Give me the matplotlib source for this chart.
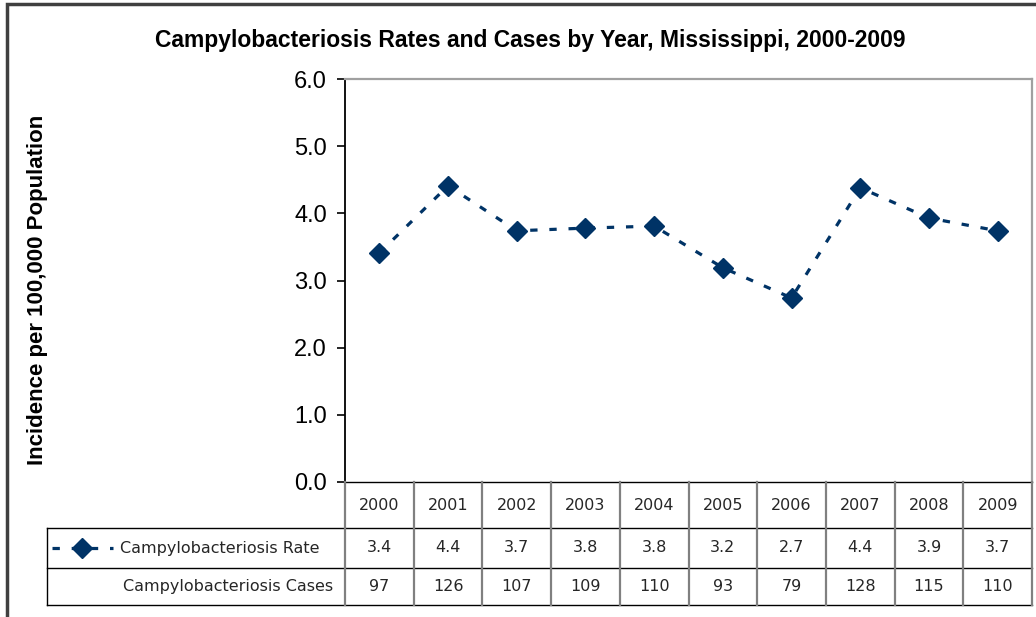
import numpy as np
import matplotlib
matplotlib.use('Agg')
import matplotlib.pyplot as plt
from matplotlib.patches import Rectangle

years = ['2000', '2001', '2002', '2003', '2004',
         '2005', '2006', '2007', '2008', '2009']
# rates as plotted (table shows them rounded to one decimal)
rates = [3.41, 4.41, 3.74, 3.78, 3.81, 3.19, 2.74, 4.38, 3.93, 3.74]
cases = [97, 126, 107, 109, 110, 93, 79, 128, 115, 110]
yticks = [0.0, 1.0, 2.0, 3.0, 4.0, 5.0, 6.0]

title = 'Campylobacteriosis Rates and Cases by Year, Mississippi, 2000-2009'
ylabel = 'Incidence per 100,000 Population'
rate_label = 'Campylobacteriosis Rate'
cases_label = 'Campylobacteriosis Cases'

W, H = 1036, 617
navy = '#003366'
line_style = dict(color=navy, lw=2.3, ls=(0, (2.3, 3.7)))

plt.rcParams['font.family'] = ['Liberation Sans', 'DejaVu Sans']

fig = plt.figure(figsize=(W / 100, H / 100), dpi=100)

# plot area (pixel box 345..1032 x 79..482)
ax = fig.add_axes([345 / W, 1 - 482 / H, (1032 - 345) / W, (482 - 79) / H])
x = np.arange(len(years))
ax.plot(x, rates, marker='D', ms=10, mfc=navy, mec=navy, **line_style)
ax.set_xlim(-0.5, len(years) - 0.5)
ax.set_ylim(0, 6)
ax.set_yticks(yticks)
ax.set_yticklabels(['%.1f' % v for v in yticks])
ax.set_xticks([])
ax.tick_params(axis='y', direction='out', length=6, width=1.2,
               labelsize=17, pad=7)
ax.spines['left'].set_linewidth(1.3)
ax.spines['bottom'].set_linewidth(1.0)
for s in ('top', 'right'):
    ax.spines[s].set_color('#a0a0a0')
    ax.spines[s].set_linewidth(1.6)

# data table below the plot
x_left = -0.5 - (345 - 47) / ((1032 - 345) / len(years))
tx = fig.add_axes([47 / W, 1 - 605 / H, (1032 - 47) / W, (605 - 482) / H])
tx.set_xlim(x_left, len(years) - 0.5)
tx.set_ylim(123, 0)
tx.axis('off')
rows = [0, 46, 86, 123]

for yy in rows[1:]:
    tx.plot([x_left, len(years) - 0.5], [yy, yy], color='black', lw=1.0,
            clip_on=False)
tx.plot([x_left, x_left], [rows[1], rows[3]], color='black', lw=1.0,
        clip_on=False)
for b in np.arange(len(years) + 1) - 0.5:
    tx.plot([b, b], [rows[0], rows[3]], color='#808080', lw=1.6,
            clip_on=False)

tkw = dict(ha='center', va='center', fontsize=11.5, family='DejaVu Sans',
           color='#262626')
for i in range(len(years)):
    tx.text(i, (rows[0] + rows[1]) / 2, years[i], **tkw)
    tx.text(i, (rows[1] + rows[2]) / 2, '%.1f' % rates[i], **tkw)
    tx.text(i, (rows[2] + rows[3]) / 2, str(cases[i]), **tkw)


def px2x(px):
    return -0.5 + (px - 345) / ((1032 - 345) / len(years))


ym = (rows[1] + rows[2]) / 2
tx.plot([px2x(52), px2x(113)], [ym, ym], clip_on=False, **line_style)
tx.plot([px2x(82)], [ym], marker='D', ms=10, color=navy, clip_on=False)
tx.text(px2x(120), ym, rate_label, ha='left', va='center', fontsize=11.5,
        family='DejaVu Sans', color='#262626')
tx.text(px2x(333), (rows[2] + rows[3]) / 2, cases_label, ha='right',
        va='center', fontsize=11.5, family='DejaVu Sans', color='#262626')

fig.text(530 / W, 1 - 40 / H, title, ha='center', va='center',
         fontsize=16.5, weight='bold')
fig.text(38 / W, 1 - 290 / H, ylabel, ha='center', va='center',
         rotation=90, fontsize=16, weight='bold')

# chart frame
fig.patches.append(Rectangle((6.5 / W, -0.2), 1.5, 1.2 - 3.5 / H,
                             transform=fig.transFigure, fill=False,
                             ec='#404040', lw=2.5))

fig.savefig('out.png', dpi=100)
